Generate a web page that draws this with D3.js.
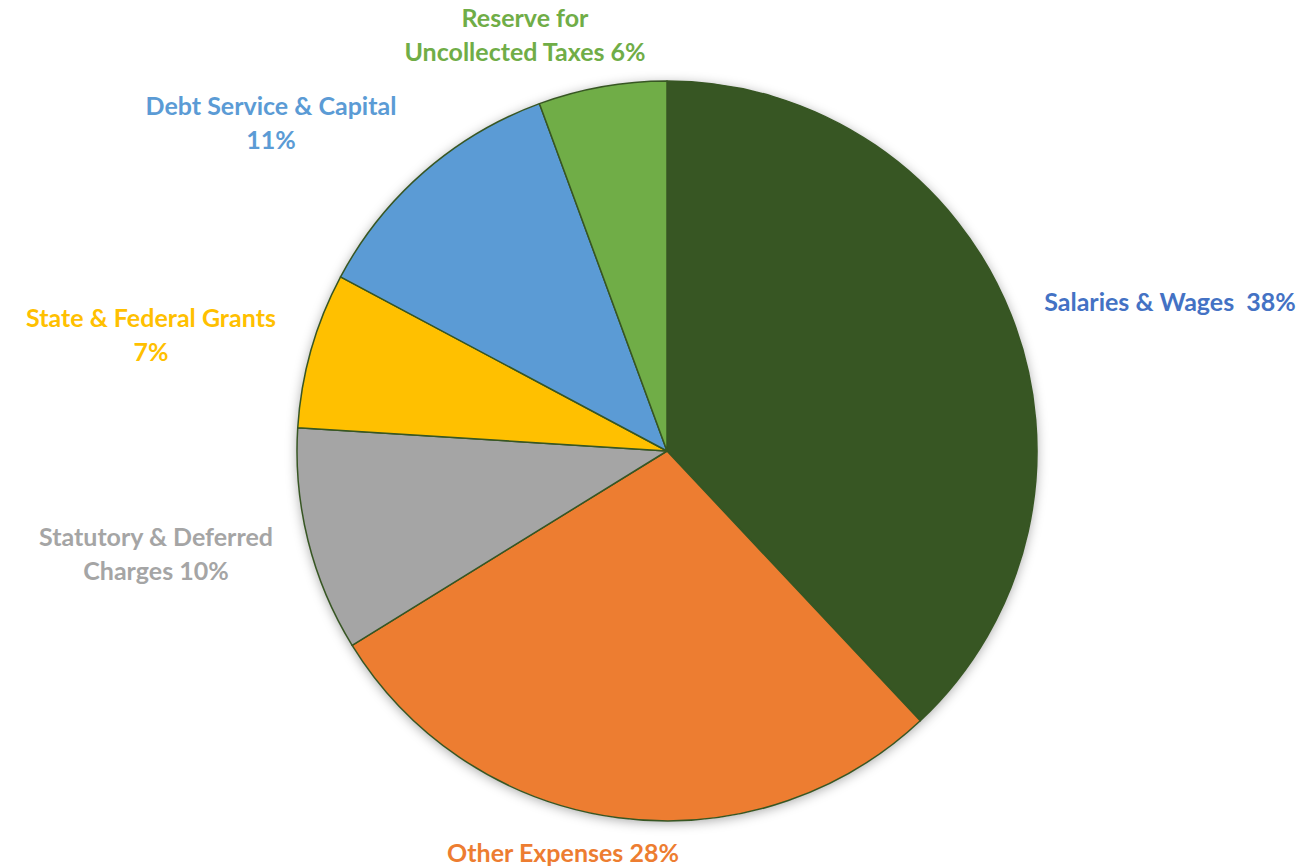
<!DOCTYPE html>
<html><head><meta charset="utf-8">
<script src="https://cdn.jsdelivr.net/npm/d3@7"></script>
<style>body{margin:0;background:#fff}svg{display:block}text{white-space:pre}</style>
</head><body>
<svg id="c" width="1307" height="867"></svg>
<script>
const categories = ["Salaries & Wages", "Other Expenses", "Statutory & Deferred Charges", "State & Federal Grants", "Debt Service & Capital", "Reserve for Uncollected Taxes"];
const values = [38.0, 28.2, 9.8, 6.8, 11.6, 5.6];
const labelLines = [
  ["Salaries & Wages  38%"],
  ["Other Expenses 28%"],
  ["Statutory & Deferred", "Charges 10%"],
  ["State & Federal Grants", "7%"],
  ["Debt Service & Capital", "11%"],
  ["Reserve for", "Uncollected Taxes 6%"]
];
const fills = ["#375623", "#ED7D31", "#A5A5A5", "#FFC000", "#5B9BD5", "#70AD47"];
const labelColors = ["#4472C4", "#ED7D31", "#A5A5A5", "#FFC000", "#5B9BD5", "#70AD47"];
const labelPos = [[1170, 302, "middle"], [563, 853, "middle"], [156, 537, "middle"], [151, 318, "middle"], [271, 106, "middle"], [525, 18, "middle"]];

const svg = d3.select("#c");
const cx = 667, cy = 451, r = 370;
const defs = svg.append("defs");
const f = defs.append("filter").attr("id","sh").attr("x","-20%").attr("y","-20%").attr("width","140%").attr("height","140%");
f.append("feDropShadow").attr("dx",0).attr("dy",2).attr("stdDeviation",6).attr("flood-color","#000").attr("flood-opacity",0.35);

const pie = d3.pie().sort(null).value(d => d)(values);
const arc = d3.arc().innerRadius(0).outerRadius(r);
const g = svg.append("g").attr("transform", `translate(${cx},${cy})`);
g.append("circle").attr("r", r).attr("fill","#fff").attr("filter","url(#sh)");
g.selectAll("path").data(pie).join("path")
  .attr("d", arc).attr("fill", (d,i) => fills[i])
  .attr("stroke", "#375623").attr("stroke-width", 1.5).attr("stroke-linejoin","round");

labelLines.forEach((lines, i) => {
  const [x, y, anchor] = labelPos[i];
  const t = svg.append("text").attr("x", x).attr("text-anchor", anchor)
    .attr("xml:space", "preserve")
    .attr("font-family", "Lato, 'Open Sans', sans-serif").attr("font-weight", "bold")
    .attr("font-size", 25).attr("fill", labelColors[i]);
  lines.forEach((ln, j) => {
    t.append("tspan").attr("x", x).attr("y", y + j * 34).attr("dy", "0.35em").text(ln);
  });
});
</script>
</body></html>
